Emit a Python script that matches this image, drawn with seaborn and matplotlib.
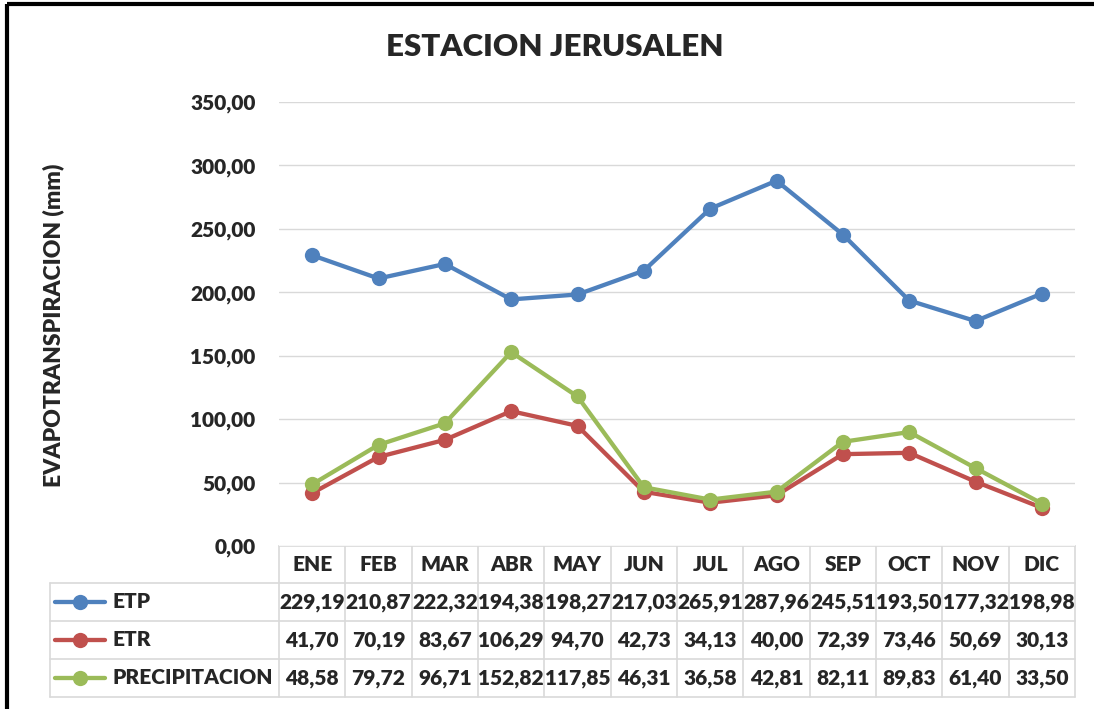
import matplotlib
matplotlib.use("Agg")
import matplotlib.pyplot as plt
import numpy as np
import pandas as pd
import seaborn as sns
from matplotlib.lines import Line2D

months = ["ENE", "FEB", "MAR", "ABR", "MAY", "JUN", "JUL", "AGO", "SEP", "OCT", "NOV", "DIC"]
etp = [229.19, 210.87, 222.32, 194.38, 198.27, 217.03, 265.91, 287.96, 245.51, 193.50, 177.32, 198.98]
etr = [41.70, 70.19, 83.67, 106.29, 94.70, 42.73, 34.13, 40.00, 72.39, 73.46, 50.69, 30.13]
precip = [48.58, 79.72, 96.71, 152.82, 117.85, 46.31, 36.58, 42.81, 82.11, 89.83, 61.40, 33.50]
series_names = ["ETP", "ETR", "PRECIPITACION"]
colors = ["#4F81BD", "#C0504D", "#9BBB59"]
yticks = [0, 50, 100, 150, 200, 250, 300, 350]

sns.set_style("white")
plt.rcParams["font.family"] = ["Lato", "DejaVu Sans"]
WEIGHT = "heavy"
FS = 15
LW = 3.1

W, H = 1094, 709
fig = plt.figure(figsize=(W / 100, H / 100), dpi=100)

# plot area in pixels
left_px, right_px, top_px, bottom_px = 279, 1075, 102, 546
ax = fig.add_axes([left_px / W, 1 - bottom_px / H,
                   (right_px - left_px) / W, (bottom_px - top_px) / H])

df = pd.DataFrame({
    "month": months * 3,
    "value": etp + etr + precip,
    "serie": np.repeat(series_names, len(months)),
})
sns.lineplot(data=df, x="month", y="value", hue="serie", palette=colors,
             marker="o", markersize=11, markeredgewidth=0, linewidth=LW,
             sort=False, legend=False, ax=ax)

ax.set_xlim(-0.5, len(months) - 0.5)
ax.set_ylim(0, 350)
ax.set_yticks(yticks)
ax.set_yticklabels([f"{v:.2f}".replace(".", ",") for v in yticks], fontsize=FS, fontweight=WEIGHT)
ax.tick_params(axis="y", length=0, pad=17)
ax.set_xticks([])
ax.set_xlabel("")
ax.set_ylabel("")
ax.grid(axis="y", color="#D9D9D9", linewidth=1)
for s in ax.spines.values():
    s.set_visible(False)

# overlay in pixel coordinates for title, label, data table, frame
ov = fig.add_axes([0, 0, 1, 1], zorder=-1)
ov.set_xlim(0, W)
ov.set_ylim(H, 0)
ov.axis("off")

ov.text(555, 47, "ESTACION JERUSALEN", ha="center", va="center", fontsize=22.5, fontweight=WEIGHT)
ov.text(53, 325, "EVAPOTRANSPIRACION (mm)", rotation=90, ha="center", va="center",
        fontsize=16.5, fontweight=WEIGHT)

# frame of the screenshot
ov.plot([7, 7], [4, H], color="black", lw=3, solid_capstyle="butt")
ov.plot([7, W], [4, 4], color="black", lw=3, solid_capstyle="butt")

# data table
grid_c = "#D9D9D9"
col_w = (right_px - left_px) / len(months)
row_edges = [546, 583, 621, 659, 697]
table_left = 50
for i, y in enumerate(row_edges):
    x0 = left_px if i == 0 else table_left
    ov.plot([x0, right_px], [y, y], color=grid_c, lw=1.2)
for j in range(len(months) + 1):
    x = left_px + j * col_w
    ov.plot([x, x], [row_edges[0], row_edges[-1]], color=grid_c, lw=1.2)
ov.plot([table_left, table_left], [row_edges[1], row_edges[-1]], color=grid_c, lw=1.2)

for j, m in enumerate(months):
    cx = left_px + (j + 0.5) * col_w
    ov.text(cx, (row_edges[0] + row_edges[1]) / 2, m, ha="center", va="center",
            fontsize=FS, fontweight=WEIGHT)

for r, (name, vals, c) in enumerate(zip(series_names, [etp, etr, precip], colors)):
    cy = (row_edges[r + 1] + row_edges[r + 2]) / 2
    ov.add_line(Line2D([55, 105], [cy, cy], color=c, lw=LW))
    ov.plot([80], [cy], marker="o", markersize=11, markeredgewidth=0, color=c)
    ov.text(112, cy, name, ha="left", va="center", fontsize=FS, fontweight=WEIGHT)
    for j, v in enumerate(vals):
        cx = left_px + (j + 0.5) * col_w
        ov.text(cx, cy, f"{v:.2f}".replace(".", ","), ha="center", va="center",
                fontsize=FS, fontweight=WEIGHT)

fig.savefig("out.png", dpi=100)
